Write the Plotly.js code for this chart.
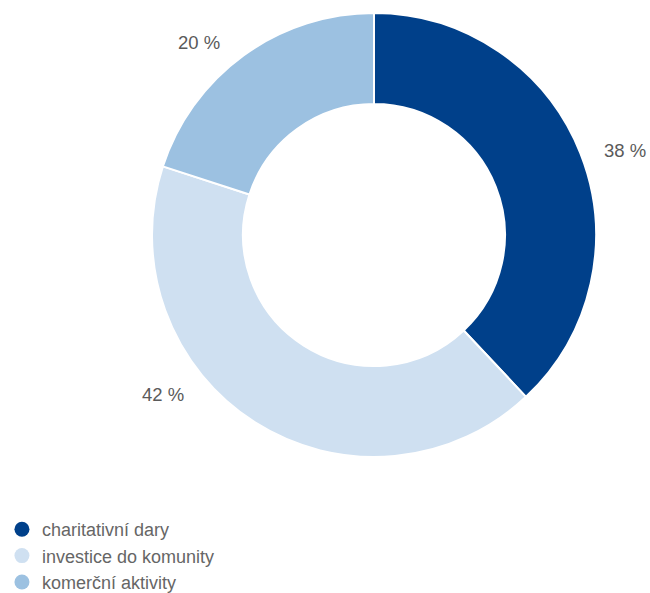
<!DOCTYPE html>
<html>
<head>
<meta charset="utf-8">
<script src="https://cdn.plot.ly/plotly-3.0.1.min.js"></script>
<style>html,body{margin:0;padding:0;background:#fff;}</style>
</head>
<body>
<div id="chart" style="width:650px;height:593px;"></div>
<script>
const categories = ["charitativní dary", "investice do komunity", "komerční aktivity"];
const values = [38, 42, 20];
const colors = ["#00408a", "#cfe0f1", "#9cc1e1"];
const labelPos = [[0.961, 0.747], [0.251, 0.334], [0.306, 0.928]];

const FONT = "Liberation Sans, Arial, sans-serif";

const traces = [{
  type: "pie",
  labels: categories,
  values: values,
  sort: false,
  direction: "clockwise",
  rotation: 0,
  hole: 0.59,
  marker: {colors: colors, line: {color: "#ffffff", width: 2}},
  textinfo: "none",
  hoverinfo: "label+percent",
  showlegend: false,
  domain: {x: [152/650, 596/650], y: [1 - 457/593, 1 - 13/593]}
}];

categories.forEach((c, i) => {
  traces.push({
    type: "scatter",
    mode: "markers",
    x: [null], y: [null],
    name: c,
    marker: {symbol: "circle", size: 15, color: colors[i]},
    showlegend: true,
    hoverinfo: "skip"
  });
});

const annotations = values.map((v, i) => ({
  text: v + " %",
  x: labelPos[i][0], y: labelPos[i][1],
  xref: "paper", yref: "paper",
  xanchor: "center", yanchor: "middle",
  showarrow: false,
  font: {family: FONT, size: 18.5, color: "#5a5a5a"}
}));

const layout = {
  width: 650, height: 593,
  margin: {l: 0, r: 0, t: 0, b: 0, autoexpand: false},
  paper_bgcolor: "#ffffff",
  plot_bgcolor: "#ffffff",
  xaxis: {visible: false},
  yaxis: {visible: false},
  showlegend: true,
  legend: {
    x: 0.003, y: 1 - 511/593, xanchor: "left", yanchor: "top",
    font: {family: FONT, size: 18, color: "#666666"},
    itemwidth: 30,
    tracegroupgap: 0,
    bgcolor: "rgba(0,0,0,0)"
  },
  annotations: annotations
};

Plotly.newPlot("chart", traces, layout, {displayModeBar: false, staticPlot: true});
</script>
</body>
</html>
